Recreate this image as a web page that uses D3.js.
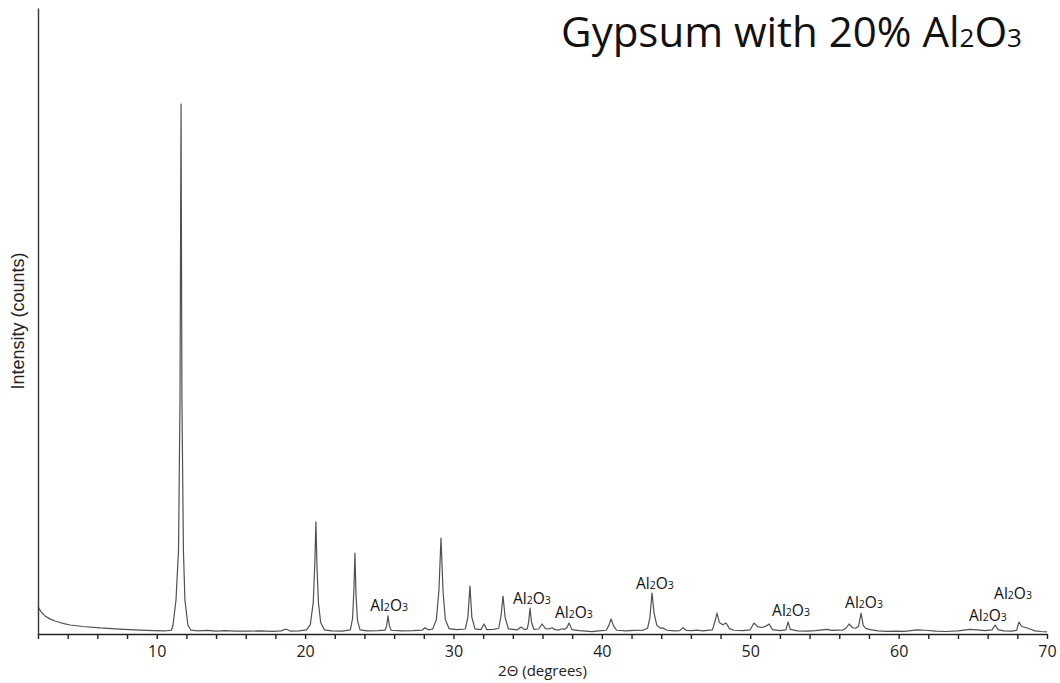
<!DOCTYPE html>
<html>
<head>
<meta charset="utf-8">
<script src="https://cdn.jsdelivr.net/npm/d3@7"></script>
<style>
  html, body { margin: 0; padding: 0; background: #fff; }
  svg { display: block; }
</style>
</head>
<body>
<svg id="chart" width="1060" height="683"></svg>
<script>
// Powder XRD trace: 2θ (degrees) and intensity (counts)
const twoTheta = [
  2.0, 2.2, 2.47, 2.8, 3.15, 3.6, 4.16, 5.0, 6.18, 7.5, 8.87, 9.8, 10.56,
  11.0, 11.1, 11.3, 11.47, 11.57, 11.64, 11.7, 11.8, 11.9, 12.1, 12.3, 12.8,
  13.4, 14.0, 14.6, 15.3, 16.2, 17.0, 17.8, 18.4, 18.7, 19.0, 19.6,
  20.1, 20.35, 20.55, 20.66, 20.73, 20.8, 20.9, 21.05, 21.3, 21.8, 22.5,
  23.05, 23.2, 23.29, 23.36, 23.43, 23.53, 23.7, 24.2, 24.9,
  25.4, 25.5, 25.59, 25.68, 25.8, 26.5, 27.3, 27.9, 28.08, 28.3,
  28.6, 28.85, 29.02, 29.16, 29.3, 29.45, 29.7, 30.2,
  30.8, 30.97, 31.11, 31.24, 31.45, 31.85, 32.06, 32.25, 32.7,
  33.05, 33.2, 33.34, 33.48, 33.7, 34.3, 34.55, 34.8,
  34.98, 35.07, 35.16, 35.26, 35.42, 35.75, 35.97, 36.2, 36.45, 36.64, 36.85,
  37.1, 37.31, 37.5, 37.65, 37.79, 37.98, 38.5, 39.34, 39.8,
  40.3, 40.48, 40.62, 40.78, 41.0, 41.6, 42.2, 42.8,
  43.08, 43.24, 43.38, 43.52, 43.7, 43.95, 44.12, 44.4, 44.9,
  45.25, 45.47, 45.7, 46.1, 46.41, 46.8,
  47.45, 47.62, 47.76, 47.92, 48.15, 48.37, 48.6, 48.9, 49.5,
  50.0, 50.25, 50.5, 50.8, 51.05, 51.27, 51.5, 52.0,
  52.4, 52.55, 52.7, 53.2, 53.8, 54.4, 55.17, 55.5, 55.85, 56.2,
  56.45, 56.66, 56.9, 57.1, 57.3, 57.47, 57.62, 57.8, 58.1, 58.6,
  59.2, 59.8, 60.4, 61.24, 61.8, 62.5, 63.2, 64.0, 64.81, 65.3, 65.8,
  66.3, 66.5, 66.7, 67.1, 67.6, 67.95, 68.11, 68.3, 68.6, 68.9, 69.2, 69.6, 70.0
];
const counts = [
  259, 215, 173, 145, 125, 105, 86, 72, 58, 47, 38, 33, 29,
  38, 86, 326, 805, 2243, 5080, 2243, 805, 326, 86, 38, 30,
  34, 27, 33, 28, 27, 30, 26, 30, 48, 28, 30,
  40, 90, 300, 700, 1074, 650, 300, 110, 40, 30, 28,
  40, 150, 420, 776, 380, 130, 40, 30, 32,
  38, 80, 173, 80, 36, 30, 32, 38, 60, 40,
  48, 140, 420, 920, 400, 140, 52, 42,
  48, 160, 460, 160, 50, 42, 96, 42, 45,
  55, 170, 364, 160, 50, 40, 67, 42,
  50, 120, 249, 110, 45, 48, 96, 52, 50, 60, 42,
  38, 50, 45, 62, 105, 42, 32, 22, 30,
  36, 85, 144, 80, 36, 30, 34, 38,
  55, 160, 393, 200, 85, 55, 58, 36, 30,
  32, 60, 34, 32, 38, 30,
  40, 120, 201, 110, 88, 105, 52, 36, 32,
  40, 105, 70, 62, 75, 96, 42, 32,
  40, 115, 45, 30, 28, 32, 45, 34, 38, 36,
  55, 96, 60, 55, 75, 201, 80, 52, 42, 30,
  25, 28, 26, 40, 36, 28, 24, 30, 45, 40, 32,
  40, 86, 42, 30, 28, 35, 115, 72, 60, 45, 30, 24, 20
];

// Al2O3 reflection labels: anchor in 2θ and intensity units
const labelTheta = [25.66, 35.29, 38.12, 43.58, 52.75, 57.67, 66.02, 67.71];
const labelLevel = [220, 288, 153, 431, 173, 249, 125, 335];

// Axis ticks
const xTicks = d3.range(2, 71, 2);
const xTickLabels = [10, 20, 30, 40, 50, 60, 70];

const titleText = "Gypsum with 20% Al";
const xTitle = "2Θ (degrees)";
const yTitle = "Intensity (counts)";

const svg = d3.select("#chart");
const plot = { left: 38, right: 1047, top: 8, bottom: 634 };

const x = d3.scaleLinear().domain([2, 70]).range([plot.left, plot.right]);
const y = d3.scaleLinear().domain([0, 6000]).range([plot.bottom, plot.top]);

const trace = twoTheta.map((t, i) => [t, counts[i]]);

// Diffraction trace
svg.append("path")
  .datum(trace)
  .attr("fill", "none")
  .attr("stroke", "#505050")
  .attr("stroke-width", 1.2)
  .attr("stroke-linejoin", "round")
  .attr("d", d3.line().x(d => x(d[0])).y(d => y(d[1])));

// X axis
const xAxis = svg.append("g")
  .attr("transform", `translate(0,${plot.bottom})`)
  .call(d3.axisBottom(x)
    .tickValues(xTicks)
    .tickSize(5)
    .tickSizeOuter(0)
    .tickPadding(7)
    .tickFormat(d => xTickLabels.includes(d) ? d : ""));
xAxis.select(".domain").attr("stroke", "#222").attr("stroke-width", 1.6);
xAxis.selectAll(".tick line").attr("stroke", "#222").attr("stroke-width", 1.4);
xAxis.selectAll(".tick text")
  .attr("fill", "#222")
  .style("font-family", "'Open Sans', 'Noto Sans', sans-serif")
  .style("font-size", "16px");

// Y axis (line only)
const yAxis = svg.append("g")
  .attr("transform", `translate(${plot.left},0)`)
  .call(d3.axisLeft(y).tickValues([]).tickSizeOuter(0));
yAxis.select(".domain").attr("stroke", "#333").attr("stroke-width", 1.4);

// Axis titles
svg.append("text")
  .attr("x", (plot.left + plot.right) / 2)
  .attr("y", 676)
  .attr("text-anchor", "middle")
  .attr("fill", "#222")
  .style("font-family", "'Open Sans', 'Noto Sans', sans-serif")
  .style("font-size", "15px")
  .text(xTitle);

svg.append("text")
  .attr("transform", `translate(24,${(plot.top + plot.bottom) / 2}) rotate(-90)`)
  .attr("text-anchor", "middle")
  .attr("fill", "#222")
  .style("font-family", "'Liberation Sans', Arial, sans-serif")
  .style("font-size", "18px")
  .text(yTitle);

// Chemical formula with small digits
function formula(sel, sizeEm) {
  sel.append("tspan").text("Al");
  sel.append("tspan").attr("font-size", sizeEm).text("2");
  sel.append("tspan").text("O");
  sel.append("tspan").attr("font-size", sizeEm).text("3");
}

// Peak labels
labelTheta.forEach((t, i) => {
  const lab = svg.append("text")
    .attr("x", x(t))
    .attr("y", y(labelLevel[i]))
    .attr("text-anchor", "middle")
    .attr("fill", "#111")
    .style("font-family", "'Open Sans', 'Noto Sans', sans-serif")
    .style("font-size", "15.5px");
  formula(lab, "0.68em");
});

// Title
const title = svg.append("text")
  .attr("x", 1022)
  .attr("y", 47)
  .attr("text-anchor", "end")
  .attr("fill", "#111")
  .style("font-family", "'Open Sans', 'Noto Sans', sans-serif")
  .style("font-size", "42px");
title.append("tspan").text(titleText);
title.append("tspan").attr("font-size", "0.62em").text("2");
title.append("tspan").text("O");
title.append("tspan").attr("font-size", "0.62em").text("3");
</script>
</body>
</html>
